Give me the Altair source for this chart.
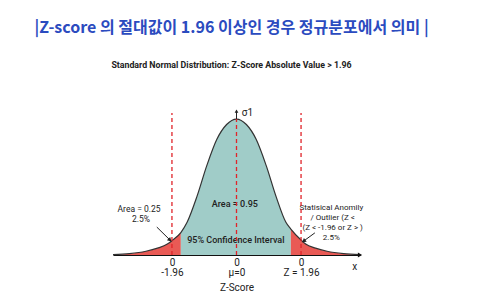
import altair as alt
import pandas as pd

# ---- data ----
z_vals = [-3.75, -3.25, -2.75, -2.4, -2.1, -1.96, -1.69, -1.5, -1.2, -0.9, -0.6, -0.3, 0.0,
          0.3, 0.6, 0.9, 1.2, 1.5, 1.65, 1.96, 2.1, 2.4, 2.75, 3.25, 3.75]
density = [0.001, 0.004, 0.011, 0.020, 0.032, 0.042, 0.066, 0.096, 0.172, 0.263, 0.339, 0.383, 0.399,
           0.383, 0.339, 0.263, 0.172, 0.096, 0.076, 0.044, 0.032, 0.020, 0.011, 0.004, 0.001]
shade_left = -1.69
shade_right = 1.65

crit_z = [-1.96, 0.0, 1.96]
crit_top = [0.417, 0.399, 0.417]

tick_values = [-1.96, 0, 1.96]

# annotations (text, x in z units, y in density units, font size, group)
ann_text = ["Area = 0.25", "2.5%", "Area = 0.95", "95% Confidence Interval",
            "Statisical Anomily", "/ Outlier (Z <", "(Z < -1.96 or Z > )", "2.5%", "σ1", "x"]
ann_x = [-2.96, -2.90, -0.05, -0.02, 2.88, 2.92, 2.92, 2.88, 0.16, 3.59]
ann_y = [0.135, 0.106, 0.150, 0.044, 0.138, 0.109, 0.079, 0.050, 0.417, -0.035]
ann_size = [8.5, 8.5, 9, 9, 8, 8, 8, 8, 10, 10]
ann_group = ["plain", "plain", "medium", "medium", "plain", "plain", "plain", "plain", "left", "plain"]

arrow_x = [-2.42, 2.38]
arrow_y = [0.082, 0.065]
arrow_x2 = [-2.02, 2.04]
arrow_y2 = [0.044, 0.041]
arrow_angle = [135, 234]

sigma_x = [0.0]
sigma_y0 = [0.399]
sigma_y1 = [0.422]

axis_end_x = [3.75]

title_main = "|Z-score 의 절대값이 1.96 이상인 경우 정규분포에서 의미 |"
title_sub = "Standard Normal Distribution: Z-Score Absolute Value > 1.96"

# ---- tables ----
curve = pd.DataFrame({"z": z_vals, "d": density})
crit = pd.DataFrame({"z": crit_z, "top": crit_top, "base": [0.0] * 3})
ann = pd.DataFrame({"x": ann_x, "y": ann_y, "t": ann_text, "s": ann_size, "g": ann_group})
arrows = pd.DataFrame({"x": arrow_x, "y": arrow_y, "x2": arrow_x2, "y2": arrow_y2, "ang": arrow_angle})
sigma = pd.DataFrame({"x": sigma_x, "y0": sigma_y0, "y1": sigma_y1})
axis_end = pd.DataFrame({"x": axis_end_x, "y": [0.0]})

xs = alt.Scale(domain=[-3.75, 3.75], nice=False, zero=False)
ys = alt.Scale(domain=[0, 0.455], nice=False, zero=False)

label_expr = ("datum.value == 0 ? ['0', 'μ=0'] : (datum.value < 0 ? ['0', '-1.96'] : ['0', 'Z = 1.96'])")

x_enc = alt.X("z:Q", scale=xs,
              axis=alt.Axis(values=tick_values, labelExpr=label_expr, ticks=False, grid=False,
                            domainColor="#111", domainWidth=1.2, labelFontSize=10,
                            labelColor="#222", labelFont="Roboto", labelPadding=2,
                            labelLineHeight=10, title="Z-Score", titleFont="Roboto",
                            titleFontSize=10, titleFontWeight="normal", titleColor="#222",
                            titlePadding=5))
y_enc = alt.Y("d:Q", scale=ys, axis=None)

base = alt.Chart(curve)

left_area = base.transform_filter(alt.datum.z <= shade_left).mark_area(
    color="#e95a55", interpolate="monotone").encode(x=x_enc, y=y_enc)
mid_area = base.transform_filter(
    (alt.datum.z >= shade_left) & (alt.datum.z <= shade_right)).mark_area(
    color="#a0ccc8", interpolate="monotone").encode(x="z:Q", y="d:Q")
right_area = base.transform_filter(alt.datum.z >= shade_right).mark_area(
    color="#e95a55", interpolate="monotone").encode(x="z:Q", y="d:Q")
curve_line = base.mark_line(color="#333", strokeWidth=1.2, interpolate="monotone").encode(
    x="z:Q", y="d:Q")


def text_layer(group, align, weight):
    return alt.Chart(ann).transform_filter(alt.datum.g == group).mark_text(
        font="Roboto", color="#222", baseline="middle", align=align, fontWeight=weight
    ).encode(x="x:Q", y="y:Q", text="t:N", size=alt.Size("s:Q", scale=None, legend=None))


texts_plain = text_layer("plain", "center", 400)
texts_medium = text_layer("medium", "center", 500)
texts_left = text_layer("left", "left", 400)

crit_lines = alt.Chart(crit).mark_rule(color="#e0242a", strokeDash=[4, 3], strokeWidth=1.3).encode(
    x="z:Q", y="base:Q", y2="top:Q")

arrow_lines = alt.Chart(arrows).mark_rule(color="#222", strokeWidth=1).encode(
    x="x:Q", y="y:Q", x2="x2:Q", y2="y2:Q")
arrow_heads = alt.Chart(arrows).mark_point(shape="triangle-up", filled=True, color="#222",
                                           size=22, opacity=1).encode(
    x="x2:Q", y="y2:Q", angle=alt.Angle("ang:Q", scale=None))

sigma_rule = alt.Chart(sigma).mark_rule(color="#222", strokeWidth=1).encode(
    x="x:Q", y="y0:Q", y2="y1:Q")
sigma_head = alt.Chart(sigma).mark_point(shape="triangle-up", filled=True, color="#222",
                                         size=14, opacity=1).encode(x="x:Q", y="y1:Q")
axis_arrow = alt.Chart(axis_end).mark_point(shape="triangle-right", filled=True, color="#111",
                                            size=24, opacity=1).encode(x="x:Q", y="y:Q")

chart = alt.layer(
    left_area, mid_area, right_area, curve_line, texts_plain, texts_medium, texts_left,
    crit_lines, arrow_lines, arrow_heads, sigma_rule, sigma_head, axis_arrow
).properties(
    width=247, height=155,
    autosize=alt.AutoSizeParams(type="none"),
    padding={"left": 113, "top": 100, "right": 124, "bottom": 39},
    background="white",
    title=alt.TitleParams(
        text=title_main, subtitle=title_sub, anchor="middle", frame="group", dx=-5,
        font="Noto Sans CJK KR", fontSize=16, fontWeight="bold", color="#2b4bbf",
        subtitleFont="Roboto", subtitleFontSize=8.8, subtitleFontWeight="bold",
        subtitleColor="#222", subtitlePadding=25, offset=30,
    ),
).configure_view(stroke=None)

chart.save("out.html", embed_options={"renderer": "svg", "actions": False})
